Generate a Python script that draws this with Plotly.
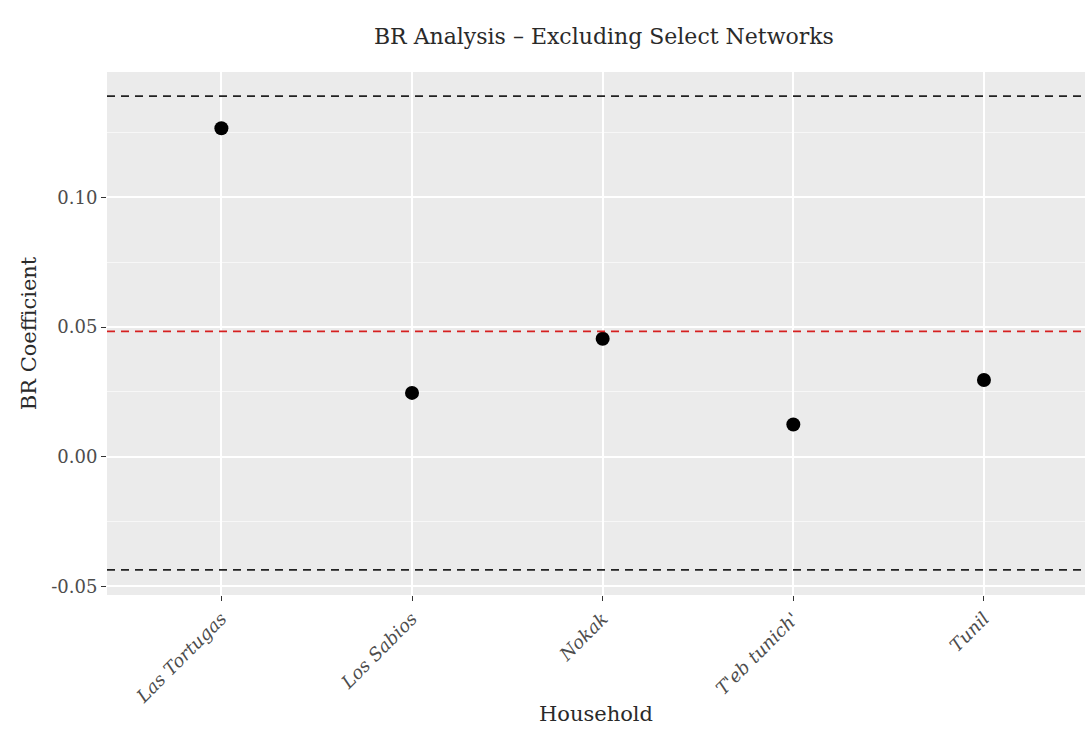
import plotly.graph_objects as go

households = ["Las Tortugas", "Los Sabios", "Nokak", "T'eb tunich'", "Tunil"]
br_coef = [0.1266, 0.0246, 0.0455, 0.0124, 0.0296]
upper_bound = 0.139
mean_line = 0.0483
lower_bound = -0.0436

y_major = [-0.05, 0.0, 0.05, 0.10]
y_major_labels = ["-0.05", "0.00", "0.05", "0.10"]
y_minor = [-0.025, 0.025, 0.075, 0.125]

FONT = "DejaVu Serif"

fig = go.Figure()
fig.add_trace(go.Scatter(
    x=list(range(len(households))), y=br_coef, mode="markers",
    marker=dict(color="black", size=14), showlegend=False, hoverinfo="y"))

for val, col in [(upper_bound, "#222222"), (lower_bound, "#222222"), (mean_line, "#d62020")]:
    fig.add_hline(y=val, line=dict(color=col, width=1.6, dash="8px,6px"), layer="above")

fig.update_layout(
    width=1085, height=730,
    margin=dict(l=107, r=0, t=72, b=135),
    paper_bgcolor="white", plot_bgcolor="#EBEBEB",
    font=dict(family=FONT, color="#333333"),
    title=dict(text="BR Analysis – Excluding Select Networks", x=0.5566, xanchor="center",
               y=0.961, yanchor="top", font=dict(size=22, color="#2a2a2a", family=FONT)),
)
fig.update_xaxes(
    range=[-0.6, 4.53], tickmode="array", tickvals=list(range(len(households))),
    ticktext=[f"<i>{h}</i>" for h in households], tickangle=-45,
    tickfont=dict(size=18, color="#4D4D4D", family=FONT),
    showgrid=True, gridcolor="white", gridwidth=1.8, zeroline=False,
    ticks="outside", ticklen=5, tickcolor="#333333", tickwidth=1.2,
    title=dict(text="Household", font=dict(size=21, color="#2a2a2a", family=FONT), standoff=0),
    showline=False,
)
fig.update_yaxes(
    range=[-0.0533, 0.1483], tickmode="array", tickvals=y_major, ticktext=y_major_labels,
    tickfont=dict(size=18, color="#4D4D4D", family=FONT),
    showgrid=True, gridcolor="white", gridwidth=1.8, zeroline=False,
    minor=dict(tickmode="array", tickvals=y_minor, showgrid=True, gridcolor="#F7F7F7", gridwidth=0.9, ticks=""),
    ticks="outside", ticklen=5, tickcolor="#333333", tickwidth=1.2,
    title=dict(text="BR Coefficient", font=dict(size=21, color="#2a2a2a", family=FONT), standoff=8),
    showline=False,
)

fig.write_html("out.html")
